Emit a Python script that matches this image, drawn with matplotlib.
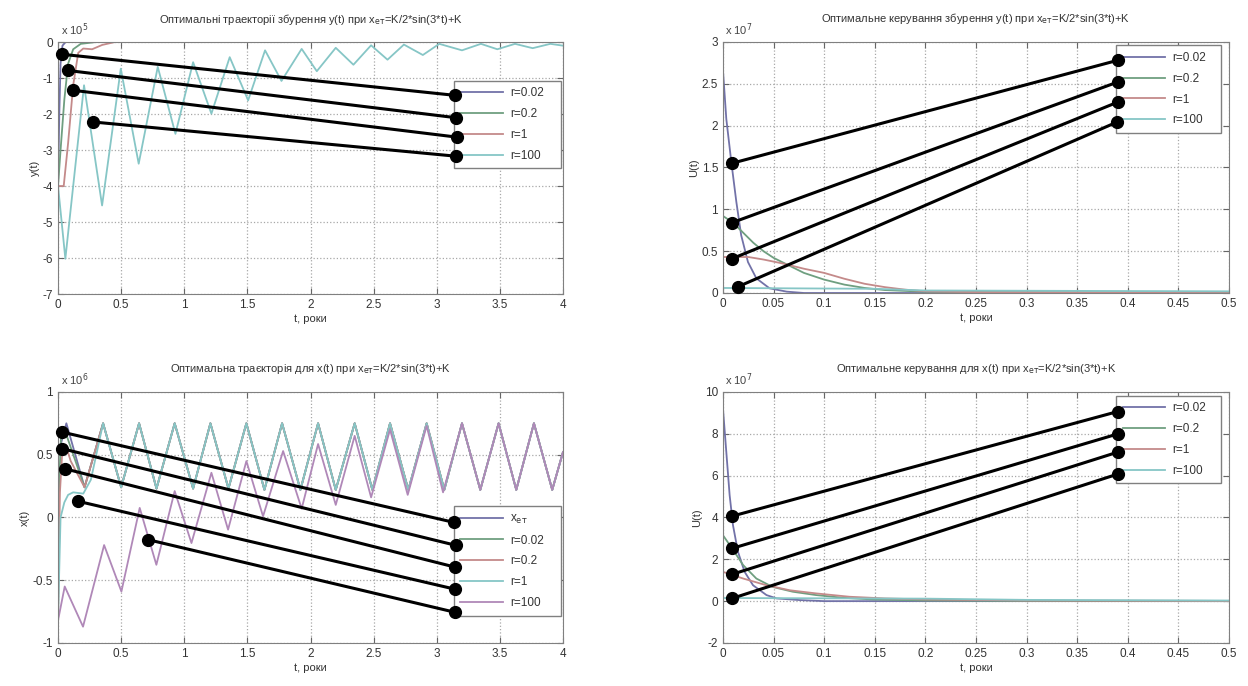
import numpy as np
import matplotlib
matplotlib.use('Agg')
from matplotlib import pyplot as plt
from matplotlib.ticker import FormatStrFormatter, MultipleLocator

plt.rcParams['font.family'] = ['Liberation Sans', 'DejaVu Sans']
plt.rcParams['font.size'] = 8

# colours of the old matlab lines, washed out like in the picture
C_B = '#7272a8'
C_G = '#6f9f80'
C_R = '#c48a8a'
C_C = '#86c6c6'
C_M = '#b088b8'

# ---- top left: y(t), x 10^5 ----
t_y_002 = [0, 0.01, 0.02, 0.035, 0.06, 4.0]
y_002 = [-4.0, -2.0, -0.6, -0.1, 0.0, 0.0]
t_y_02 = [0, 0.02, 0.05, 0.08, 0.12, 0.18, 0.3, 4.0]
y_02 = [-4.0, -3.0, -1.6, -0.6, -0.2, -0.05, 0.0, 0.0]
t_y_1 = [0, 0.045, 0.08, 0.12, 0.16, 0.2, 0.27, 0.35, 0.45, 4.0]
y_1 = [-4.0, -4.0, -2.8, -1.2, -0.3, -0.18, -0.2, -0.08, 0.0, 0.0]
t_y_100 = [0, 0.058, 0.206, 0.349, 0.497, 0.639, 0.79, 0.93, 1.07, 1.215,
           1.36, 1.506, 1.64, 1.77, 1.93, 2.05, 2.2, 2.34, 2.48, 2.61,
           2.74, 2.89, 3.02, 3.2, 3.35, 3.48, 3.62, 3.76, 3.9, 4.0]
y_100 = [-4.0, -6.02, -1.2, -4.54, -0.74, -3.38, -0.69, -2.55, -0.56, -1.99,
         -0.42, -1.62, -0.23, -1.08, -0.19, -0.81, -0.16, -0.63, -0.09, -0.49,
         -0.07, -0.36, -0.05, -0.23, -0.05, -0.2, -0.05, -0.17, -0.05, -0.1]

# ---- top right: U(t) for y, x 10^7 ----
t_u1_002 = [0, 0.0033, 0.0082, 0.0132, 0.018, 0.0247, 0.033, 0.046, 0.063, 0.08, 0.5]
u1_002 = [2.66, 2.08, 1.57, 1.09, 0.69, 0.37, 0.175, 0.056, 0.016, 0.0, 0.0]
t_u1_02 = [0, 0.01, 0.02, 0.03, 0.04, 0.05, 0.065, 0.08, 0.1, 0.12, 0.14, 0.16, 0.2, 0.3, 0.5]
u1_02 = [0.92, 0.84, 0.72, 0.6, 0.5, 0.42, 0.33, 0.24, 0.16, 0.1, 0.06, 0.035, 0.015, 0.01, 0.005]
t_u1_1 = [0, 0.025, 0.04, 0.06, 0.08, 0.1, 0.12, 0.14, 0.16, 0.18, 0.2, 0.25, 0.5]
u1_1 = [0.43, 0.43, 0.40, 0.35, 0.29, 0.24, 0.17, 0.11, 0.07, 0.04, 0.02, 0.01, 0.0]
t_u1_100 = [0, 0.15, 0.2, 0.5]
u1_100 = [0.06, 0.05, 0.03, 0.02]

# ---- bottom left: x(t), x 10^6 ----
t_xet = [0, 0.066, 0.21, 0.357, 0.50, 0.642, 0.78, 0.924, 1.07, 1.207,
         1.35, 1.492, 1.635, 1.775, 1.92, 2.06, 2.2, 2.35, 2.49, 2.63,
         2.775, 2.92, 3.06, 3.20, 3.345, 3.49, 3.63, 3.77, 3.915, 4.0]
x_et = [0.5, 0.75, 0.24, 0.75, 0.24, 0.75, 0.23, 0.75, 0.23, 0.75,
        0.23, 0.75, 0.22, 0.75, 0.22, 0.75, 0.22, 0.75, 0.22, 0.75,
        0.22, 0.75, 0.22, 0.75, 0.22, 0.75, 0.22, 0.75, 0.22, 0.52]
# start of each r curve, afterwards they sit on x_et
t_x_002_start = [0, 0.01, 0.025, 0.045]
x_002_start = [-0.8, 0.3, 0.68, 0.72]
t_x_02_start = [0, 0.015, 0.035, 0.06, 0.1]
x_02_start = [-0.8, 0.2, 0.55, 0.58, 0.45]
t_x_1_start = [0, 0.02, 0.05, 0.08, 0.12, 0.2, 0.26]
x_1_start = [-0.8, 0.0, 0.12, 0.18, 0.2, 0.19, 0.3]
t_x_100_start = [0, 0.053, 0.198, 0.365, 0.502, 0.647, 0.779, 0.924, 1.057, 1.215,
                 1.347, 1.492, 1.624, 1.783, 1.93, 2.06, 2.2, 2.35, 2.48, 2.63,
                 2.77, 2.92, 3.05]
x_100_start = [-0.82, -0.55, -0.87, -0.22, -0.59, 0.076, -0.377, 0.21, -0.204, 0.356,
               -0.097, 0.449, 0.009, 0.529, 0.07, 0.585, 0.10, 0.65, 0.16, 0.70,
               0.18, 0.73, 0.2]

# ---- bottom right: U(t) for x, x 10^7 ----
t_u2_002 = [0, 0.0033, 0.0066, 0.0099, 0.0148, 0.0214, 0.0297, 0.043, 0.053, 0.076, 0.1, 0.5]
u2_002 = [9.2, 7.13, 5.06, 3.63, 2.36, 1.4, 0.76, 0.29, 0.13, 0.05, 0.0, 0.0]
t_u2_02 = [0, 0.009, 0.02, 0.033, 0.049, 0.069, 0.092, 0.119, 0.148, 0.2, 0.3, 0.5]
u2_02 = [3.15, 2.52, 1.72, 1.08, 0.68, 0.45, 0.29, 0.16, 0.08, 0.03, 0.01, 0.0]
t_u2_1 = [0, 0.02, 0.043, 0.066, 0.092, 0.125, 0.16, 0.2, 0.3, 0.5]
u2_1 = [1.4, 1.08, 0.76, 0.52, 0.37, 0.21, 0.13, 0.08, 0.03, 0.01]
t_u2_100 = [0, 0.2, 0.3, 0.5]
u2_100 = [0.15, 0.12, 0.06, 0.03]

# black pointer lines (curve end -> legend entry), in data units
ann_tl = ([0.032, 0.079, 0.119, 0.277], [-0.34, -0.79, -1.34, -2.22],
          [3.143, 3.149, 3.157, 3.149], [-1.48, -2.10, -2.64, -3.17])
ann_tr = ([0.0089, 0.0089, 0.0089, 0.0148], [1.55, 0.84, 0.41, 0.075],
          [0.390, 0.390, 0.390, 0.389], [2.78, 2.52, 2.28, 2.04])
ann_bl = ([0.032, 0.032, 0.053, 0.158, 0.713], [0.680, 0.548, 0.388, 0.129, -0.177],
          [3.135, 3.151, 3.143, 3.143, 3.143], [-0.039, -0.222, -0.395, -0.571, -0.755])
ann_br = ([0.0089, 0.0089, 0.0089, 0.0089], [4.06, 2.52, 1.28, 0.13],
          [0.390, 0.390, 0.390, 0.390], [9.06, 7.99, 7.12, 6.07])

r_labels = ['r=0.02', 'r=0.2', 'r=1', 'r=100']
xet = r'x$_{\mathrm{ет}}$'
tail = '=K/2*sin(3*t)+K'


def style(ax, xmax, xstep, ymin, ymax, ystep, ylabel, power, title):
    ax.set_xlim(0, xmax)
    ax.set_ylim(ymin, ymax)
    ax.xaxis.set_major_locator(MultipleLocator(xstep))
    ax.yaxis.set_major_locator(MultipleLocator(ystep))
    ax.xaxis.set_major_formatter(FormatStrFormatter('%g'))
    ax.yaxis.set_major_formatter(FormatStrFormatter('%g'))
    ax.grid(True, linestyle=':', color='#a8a8a8', linewidth=0.9)
    ax.tick_params(direction='in', length=4, top=True, right=True,
                   colors='#666666', labelcolor='#333333', labelsize=8.5)
    for s in ax.spines.values():
        s.set_color('#808080')
    ax.set_xlabel('t, роки', color='#333333', fontsize=8, labelpad=2)
    ax.set_ylabel(ylabel, color='#333333', fontsize=8, labelpad=2)
    ax.set_title(title, color='#333333', fontsize=8, pad=14)
    ax.text(0.005, 1.015, r'x 10$^{%d}$' % power, transform=ax.transAxes,
            ha='left', va='bottom', color='#444444', fontsize=8)


def pointers(ax, ann):
    x0, y0, x1, y1 = ann
    for i in range(len(x0)):
        ax.plot([x0[i], x1[i]], [y0[i], y1[i]], color='k', linewidth=2.2,
                marker='o', markersize=8.5, clip_on=False, zorder=20)


def legend(ax, bx, by, bw):
    leg = ax.legend(loc='upper left', bbox_to_anchor=(bx, by, bw, 0.01), mode='expand',
                    borderaxespad=0, fontsize=8.5, handlelength=3.6, labelspacing=0.75,
                    borderpad=0.55, fancybox=False, framealpha=1, handletextpad=0.6)
    leg.get_frame().set_edgecolor('#808080')
    leg.get_frame().set_linewidth(1.0)
    for txt in leg.get_texts():
        txt.set_color('#333333')
    leg.set_zorder(5)


fig = plt.figure(figsize=(12.48, 6.86), dpi=100)
ax1 = fig.add_axes([0.0465, 0.5714, 0.4046, 0.3673])
ax2 = fig.add_axes([0.5793, 0.5729, 0.4054, 0.366])
ax3 = fig.add_axes([0.0465, 0.0627, 0.4046, 0.366])
ax4 = fig.add_axes([0.5793, 0.0627, 0.4054, 0.366])

lw = 1.3

# top left
ax1.plot(t_y_002, y_002, color=C_B, lw=lw, label=r_labels[0])
ax1.plot(t_y_02, y_02, color=C_G, lw=lw, label=r_labels[1])
ax1.plot(t_y_1, y_1, color=C_R, lw=lw, label=r_labels[2])
ax1.plot(t_y_100, y_100, color=C_C, lw=lw, label=r_labels[3])
style(ax1, 4, 0.5, -7, 0, 1, 'y(t)', 5,
      'Оптимальні траекторії збурення y(t) при ' + xet + tail)
legend(ax1, 0.784, 0.837, 0.212)
pointers(ax1, ann_tl)

# top right
ax2.plot(t_u1_002, u1_002, color=C_B, lw=lw, label=r_labels[0])
ax2.plot(t_u1_02, u1_02, color=C_G, lw=lw, label=r_labels[1])
ax2.plot(t_u1_1, u1_1, color=C_R, lw=lw, label=r_labels[2])
ax2.plot(t_u1_100, u1_100, color=C_C, lw=lw, label=r_labels[3])
style(ax2, 0.5, 0.05, 0, 3, 0.5, 'U(t)', 7,
      'Оптимальне керування збурення y(t) при ' + xet + tail)
legend(ax2, 0.777, 0.976, 0.207)
pointers(ax2, ann_tr)

# bottom left
ax3.plot(t_xet, x_et, color=C_B, lw=lw, label=xet)
ax3.plot(t_x_002_start + t_xet[2:], x_002_start + x_et[2:], color=C_G, lw=lw, label=r_labels[0])
ax3.plot(t_x_02_start + t_xet[2:], x_02_start + x_et[2:], color=C_R, lw=lw, label=r_labels[1])
ax3.plot(t_x_1_start + t_xet[3:], x_1_start + x_et[3:], color=C_C, lw=lw, label=r_labels[2])
ax3.plot(t_x_100_start + t_xet[23:], x_100_start + x_et[23:], color=C_M, lw=lw, label=r_labels[3])
style(ax3, 4, 0.5, -1, 1, 0.5, 'x(t)', 6,
      'Оптимальна траєкторія для x(t) при ' + xet + tail)
legend(ax3, 0.784, 0.535, 0.212)
pointers(ax3, ann_bl)

# bottom right
ax4.plot(t_u2_002, u2_002, color=C_B, lw=lw, label=r_labels[0])
ax4.plot(t_u2_02, u2_02, color=C_G, lw=lw, label=r_labels[1])
ax4.plot(t_u2_1, u2_1, color=C_R, lw=lw, label=r_labels[2])
ax4.plot(t_u2_100, u2_100, color=C_C, lw=lw, label=r_labels[3])
style(ax4, 0.5, 0.05, -2, 10, 2, 'U(t)', 7,
      'Оптимальне керування для x(t) при ' + xet + tail)
legend(ax4, 0.777, 0.975, 0.207)
pointers(ax4, ann_br)

fig.savefig('out.png', dpi=100)
